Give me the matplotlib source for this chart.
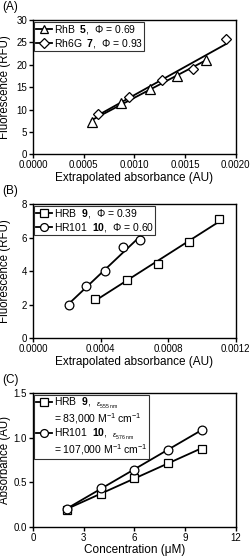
import matplotlib
matplotlib.use('Agg')
import matplotlib.pyplot as plt
import numpy as np

plt.rcParams['font.family'] = ['Liberation Sans', 'DejaVu Sans']
plt.rcParams['mathtext.fontset'] = 'custom'
plt.rcParams['mathtext.rm'] = 'Liberation Sans'
plt.rcParams['mathtext.it'] = 'Liberation Sans:italic'
plt.rcParams['mathtext.bf'] = 'Liberation Sans:bold'

# (A) RhB 5 and Rh6G 7
rhb_x = [0.00058, 0.000864, 0.00115, 0.001425, 0.00171]
rhb_y = [7.3, 11.5, 14.5, 17.4, 21.1]
rh6g_x = [0.00064, 0.00095, 0.00127, 0.00158, 0.0019]
rh6g_y = [8.9, 12.9, 16.6, 19.0, 25.7]

# (B) HRB 9 and HR101 10
hrb_x = [0.00037, 0.000554, 0.00074, 0.000924, 0.0011]
hrb_y = [2.35, 3.45, 4.45, 5.72, 7.1]
hr101_x = [0.000215, 0.000317, 0.000426, 0.00053, 0.000636]
hr101_y = [2.0, 3.1, 4.0, 5.45, 5.85]

# (C) absorbance vs concentration
conc = [2, 4, 6, 8, 10]
abs_hrb = [0.19, 0.37, 0.55, 0.72, 0.87]
abs_hr101 = [0.20, 0.43, 0.64, 0.86, 1.09]

fig = plt.figure(figsize=(2.53, 5.56), dpi=100)

def series(ax, x, y, marker, ms, label, extra=None):
    x = np.array(x)
    k, b = np.polyfit(x, y, 1)
    xx = np.array([x.min(), x.max()])
    ax.plot(xx, k * xx + b, color='black', lw=1.3, zorder=2)
    ax.plot(x, y, linestyle='none', marker=marker, ms=ms, mfc='white',
            mec='black', mew=0.9, zorder=3)
    # legend handle
    ax.plot([], [], color='black', lw=1.3, marker=marker, ms=ms, mfc='white',
            mec='black', mew=0.9, label=label)
    if extra:
        ax.plot([], [], color='none', label=extra)

def style(ax, xlabel, ylabel, letter):
    ax.tick_params(direction='out', length=3, width=1, labelsize=7, pad=1.2,
                   top=False, right=False)
    for s in ax.spines.values():
        s.set_linewidth(1.0)
    ax.set_xlabel(xlabel, fontsize=8.5, labelpad=1)
    ax.set_ylabel(ylabel, fontsize=8.3)
    ax.yaxis.set_label_coords(-0.11, 0.5)
    ax.legend(loc='upper left', fontsize=7.5, frameon=True, fancybox=False,
              edgecolor='black', borderpad=0.15, handlelength=1.5,
              handletextpad=0.2, labelspacing=0.05, borderaxespad=0.15,
              numpoints=1, markerscale=0.9).get_frame().set_linewidth(0.8)
    fig.text(0.008, ax.get_position().y1 + 0.012, letter, fontsize=8.5, va='bottom')

# panel A
axA = fig.add_axes([0.130, 0.7225, 0.802, 0.2415])
series(axA, rhb_x, rhb_y, '^', 6.5, r'RhB  $\mathbf{5}$,  Φ = 0.69')
series(axA, rh6g_x, rh6g_y, 'D', 5.2, r'Rh6G  $\mathbf{7}$,  Φ = 0.93')
axA.set_xlim(0, 0.002)
axA.set_ylim(0, 30)
axA.set_xticks([0, 0.0005, 0.001, 0.0015, 0.002])
axA.set_xticklabels(['0.0000', '0.0005', '0.0010', '0.0015', '0.0020'])
axA.set_yticks([0, 5, 10, 15, 20, 25, 30])
style(axA, 'Extrapolated absorbance (AU)', 'Fluorescence (RFU)', '(A)')

# panel B
axB = fig.add_axes([0.130, 0.3915, 0.802, 0.2415])
series(axB, hrb_x, hrb_y, 's', 6, r'HRB  $\mathbf{9}$,  Φ = 0.39')
series(axB, hr101_x, hr101_y, 'o', 6.3, r'HR101  $\mathbf{10}$,  Φ = 0.60')
axB.set_xlim(0, 0.0012)
axB.set_ylim(0, 8)
axB.set_xticks([0, 0.0004, 0.0008, 0.0012])
axB.set_xticklabels(['0.0000', '0.0004', '0.0008', '0.0012'])
axB.set_yticks([0, 2, 4, 6, 8])
style(axB, 'Extrapolated absorbance (AU)', 'Fluorescence (RFU)', '(B)')

# panel C
axC = fig.add_axes([0.130, 0.0527, 0.802, 0.2405])
series(axC, conc, abs_hrb, 's', 6,
       'HRB  $\\mathbf{9}$,  $_{\\varepsilon_{555\\ \\mathrm{nm}}}$',
       '= 83,000 M$^{-1}$ cm$^{-1}$')
series(axC, conc, abs_hr101, 'o', 6.3,
       'HR101  $\\mathbf{10}$,  $_{\\varepsilon_{576\\ \\mathrm{nm}}}$',
       '= 107,000 M$^{-1}$ cm$^{-1}$')
axC.set_xlim(0, 12)
axC.set_ylim(0, 1.5)
axC.set_xticks([0, 3, 6, 9, 12])
axC.set_yticks([0, 0.5, 1.0, 1.5])
axC.set_yticklabels(['0.0', '0.5', '1.0', '1.5'])
style(axC, 'Concentration (μM)', 'Absorbance (AU)', '(C)')

fig.savefig('out.png', dpi=100)
